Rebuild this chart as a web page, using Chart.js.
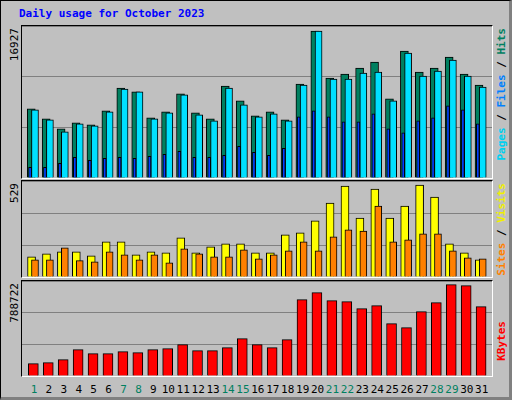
<!DOCTYPE html>
<html>
<head>
<meta charset="utf-8">
<script src="https://cdn.jsdelivr.net/npm/chart.js@4"></script>
<style>
  body { margin: 0; background: #c0c0c0; }
  #frame { position: absolute; left: 0; top: 0; width: 508px; height: 396px; border: 1px solid #000;
           border-right: 3px solid #808080; border-bottom: 3px solid #808080; background: #c0c0c0;
           font-family: "DejaVu Sans Mono", monospace; }
  .panel { position: absolute; left: 20px; width: 470px; border: 1px solid #000; border-right-color: #fff; border-bottom-color: #fff; }
  .panel canvas { display: block; }
  .vt { position: absolute; writing-mode: vertical-rl; transform: rotate(180deg); font-size: 11px; white-space: nowrap; }
  .day { position: absolute; top: 382px; font-size: 11px; width: 16px; margin-left: -8px; text-align: center; }
</style>
</head>
<body>
<div id="frame">
  <div style="position:absolute;left:18px;top:6px;font-size:11px;font-weight:bold;color:#0000ff">Daily usage for October 2023</div>
  <div class="panel" style="top:24px;height:152px"><canvas id="c1"></canvas></div>
  <div class="panel" style="top:179px;height:96px"><canvas id="c2"></canvas></div>
  <div class="panel" style="top:279px;height:95px"><canvas id="c3"></canvas></div>
  <div class="vt" style="left:7px;top:27px">16927</div>
  <div class="vt" style="left:7px;top:182px">529</div>
  <div class="vt" style="left:7px;top:282px">788722</div>
  <div class="vt" style="left:494px;top:27px;font-weight:bold"><span style="color:#00d0f0">Pages</span> / <span style="color:#0080ff">Files</span> / <span style="color:#008060">Hits</span></div>
  <div class="vt" style="left:494px;top:182px;font-weight:bold"><span style="color:#ff8000">Sites</span> / <span style="color:#f0f000">Visits</span></div>
  <div class="vt" style="left:494px;top:320px;font-weight:bold;color:#ff0000">KBytes</div>
  <div id="days"></div>
</div>
<script>
// --- Data ---
const days = ['1','2','3','4','5','6','7','8','9','10','11','12','13','14','15','16','17','18','19','20','21','22','23','24','25','26','27','28','29','30','31'];
const weekendDays = ['1','7','8','14','15','21','22','28','29'];
const hits = [7966,6817,5668,6357,6127,7736,10378,9919,6932,7621,9689,7506,6817,10608,8885,7161,7621,6702,10838,16927,11527,11987,12676,13365,9114,14629,12216,12676,13940,11987,10723];
const files = [7851,6702,5323,6242,6012,7621,10263,9919,6817,7506,9574,7276,6587,10378,8425,7046,7391,6587,10723,16927,11412,11412,12101,12216,8885,14399,11757,12331,13595,11757,10493];
const pages = [1225,1225,1685,2374,2030,2259,2374,2259,2489,2719,3064,2374,2374,2604,3638,2949,2604,3408,7046,7736,7046,6472,6472,7391,5668,5208,6587,6932,8310,7851,6242];
const visits = [116,134,145,145,122,202,202,128,145,139,225,139,174,191,191,139,139,243,254,323,426,523,340,506,340,409,529,460,191,139,99];
const sites = [99,99,168,94,88,145,128,99,128,82,162,134,116,116,157,105,128,151,202,151,231,271,265,409,202,214,248,248,151,111,105];
const kbytes = [106505,115142,141049,227406,192864,192864,210135,201499,227406,236042,270585,218770,218770,244678,322398,270585,244678,313762,659193,719643,650557,641921,581471,607378,451935,417392,555564,633285,788722,780086,598742];

// --- Helpers ---
const X_MIN = 0.13, X_MAX = 31.62;

function series(values, offset, color, thick) {
    return {
        data: values.map((v, i) => ({ x: Number(days[i]) + offset, y: v })),
        backgroundColor: color,
        borderColor: '#000',
        borderWidth: 1,
        borderSkipped: 'bottom',
        barThickness: thick,
        grouped: false
    };
}

function makeChart(id, datasets, yMax) {
    return new Chart(document.getElementById(id), {
        type: 'bar',
        data: { datasets: datasets },
        options: {
            responsive: true,
            maintainAspectRatio: false,
            animation: false,
            layout: { padding: 0 },
            plugins: { legend: { display: false }, tooltip: { enabled: false } },
            scales: {
                x: { type: 'linear', min: X_MIN, max: X_MAX, offset: false, display: false },
                y: {
                    min: 0, max: yMax,
                    ticks: { display: false, stepSize: yMax / 3 },
                    grid: { color: '#808080', drawTicks: false },
                    border: { display: false },
                    afterFit: (s) => { s.width = 0; }
                }
            }
        }
    });
}

// --- Charts ---
makeChart('c1', [
    series(pages, -0.33, '#0040ff', 3),
    series(files, 0, '#00e0ff', 7),
    series(hits, -0.25, '#008060', 8)
], 16927 * 1.035);

makeChart('c2', [
    series(sites, 0, '#ff8000', 7),
    series(visits, -0.23, '#ffff00', 8)
], 529 * 1.045);

makeChart('c3', [
    series(kbytes, -0.11, '#ff0000', 10)
], 788722 * 1.04);

// --- Day labels ---
const dayBox = document.getElementById('days');
days.forEach((d) => {
    const el = document.createElement('div');
    el.className = 'day';
    el.textContent = d;
    el.style.left = (20 + (Number(d) - X_MIN) * 470 / (X_MAX - X_MIN)) + 'px';
    el.style.color = weekendDays.includes(d) ? '#008060' : '#000';
    dayBox.appendChild(el);
});
</script>
</body>
</html>
